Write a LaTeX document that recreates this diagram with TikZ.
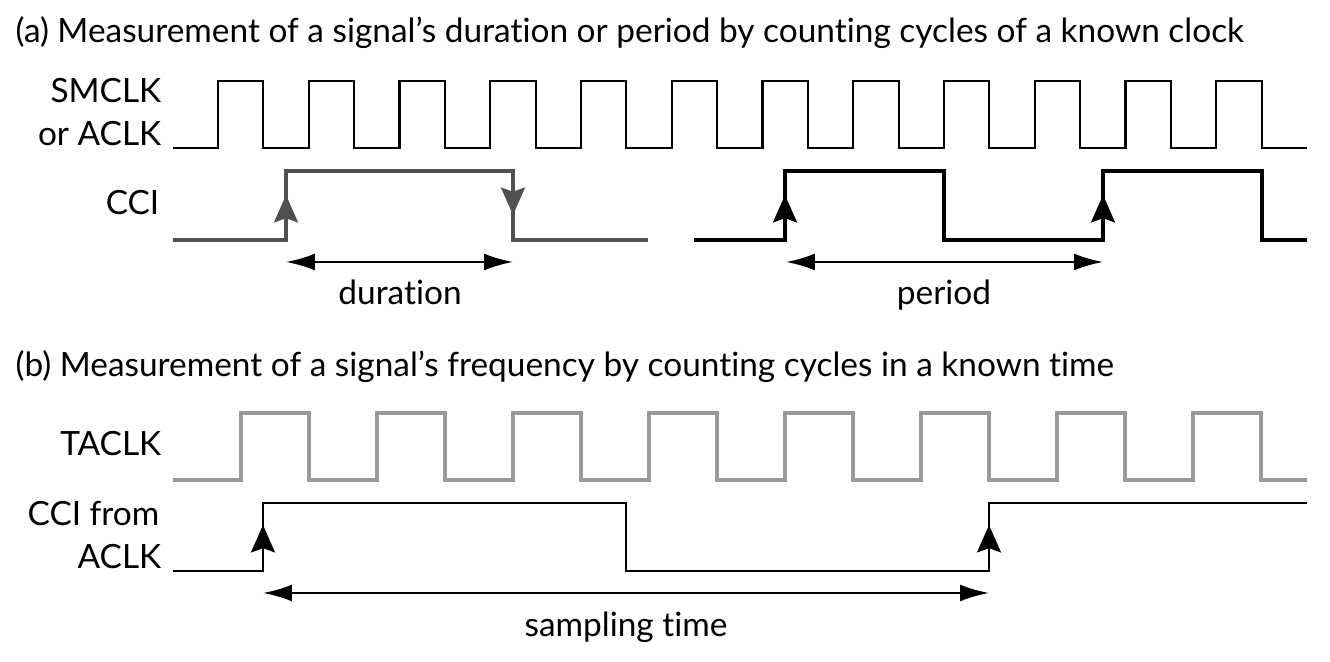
\documentclass[tikz,border=0pt]{standalone}
\usepackage{fontspec}
\setmainfont{Lato}[Ligatures={NoCommon,NoRare,NoDiscretionary}]
\usetikzlibrary{arrows.meta,positioning}
\definecolor{ccigray}{HTML}{505050}
\definecolor{taclkgray}{HTML}{9A9A9A}
\begin{document}
\begin{tikzpicture}[x=0.01cm,y=-0.01cm]
\tikzstyle{every node}=[font=\fontsize{9.5}{11}\selectfont,inner sep=0pt]
\tikzstyle{clk}=[line width=0.6pt]
\tikzstyle{sig}=[line width=0.95pt]
\tikzstyle{thinsig}=[line width=0.7pt]
\tikzstyle{lbl}=[anchor=base east]
\tikzstyle{edgetip}=[-{Stealth[length=7.8pt,width=6.8pt,inset=1.2pt]}]
\tikzstyle{span}=[{Latex[length=8.2pt,width=4.8pt]}-{Latex[length=8.2pt,width=4.8pt]},line width=0.7pt]
\useasboundingbox (0,0) rectangle (1330,662);
\node[anchor=base west] (titlea) at (15,43) {(a) Measurement of a signal’s duration or period by counting cycles of a known clock};
\node[lbl] (smclk) at (162,103) {SMCLK};
\node[lbl] (oraclk) at (162,146) {or ACLK};
\node[lbl] (ccia) at (160,215) {CCI};
\draw[clk] (173,148) \foreach \i in {0,...,11} {-- (218+90.75*\i,148) -- ++(0,-67) -- ++(45.4,0) -- ++(0,67)} -- (1307,148);
\begin{scope}[draw=ccigray,fill=ccigray]
 \coordinate (rise1) at (286,240);
 \coordinate (fall1) at (513,171);
 \draw[sig,draw=ccigray] (173,240) -- (rise1) -- (286,171) -- (fall1) -- (513,240) -- (648,240);
 \draw[sig,edgetip,draw=ccigray,fill=ccigray] (rise1) -- ++(0,-45);
 \draw[sig,edgetip,draw=ccigray,fill=ccigray] (fall1) -- ++(0,44);
\end{scope}
\coordinate (durl) at (286,262);
\coordinate (durr) at (513,262);
\draw[span] (durl) -- (durr);
\node[anchor=base] (duration) at (400,305) {duration};
\coordinate (rise2) at (785,240);
\coordinate (rise3) at (1103,240);
\draw[sig] (694,240) -- (rise2) -- (785,171) -- (944,171) -- (944,240) -- (rise3) -- (1103,171) -- (1262,171) -- (1262,240) -- (1307,240);
\draw[sig,edgetip] (rise2) -- ++(0,-45);
\draw[sig,edgetip] (rise3) -- ++(0,-45);
\coordinate (perl) at (786,262);
\coordinate (perr) at (1103,262);
\draw[span] (perl) -- (perr);
\node[anchor=base] (period) at (944,305) {period};
\node[anchor=base west] (titleb) at (15,377) {(b) Measurement of a signal’s frequency by counting cycles in a known time};
\node[lbl] (taclk) at (162,456) {TACLK};
\node[lbl] (ccifrom) at (160,526) {CCI from};
\node[lbl] (aclk) at (162,569) {ACLK};
\draw[sig,draw=taclkgray] (173,480) \foreach \i in {0,...,7} {-- (241+136*\i,480) -- ++(0,-67) -- ++(68,0) -- ++(0,67)} -- (1307,480);
\coordinate (rise4) at (263,571);
\coordinate (rise5) at (989,571);
\draw[thinsig] (173,571) -- (rise4) -- (263,503) -- (626,503) -- (626,571) -- (rise5) -- (989,503) -- (1307,503);
\draw[thinsig,edgetip] (rise4) -- ++(0,-46);
\draw[thinsig,edgetip] (rise5) -- ++(0,-46);
\coordinate (sampl) at (263,593);
\coordinate (sampr) at (989,593);
\draw[span] (sampl) -- (sampr);
\node[anchor=base] (sampling) at (626,637) {sampling time};
\end{tikzpicture}
\end{document}
